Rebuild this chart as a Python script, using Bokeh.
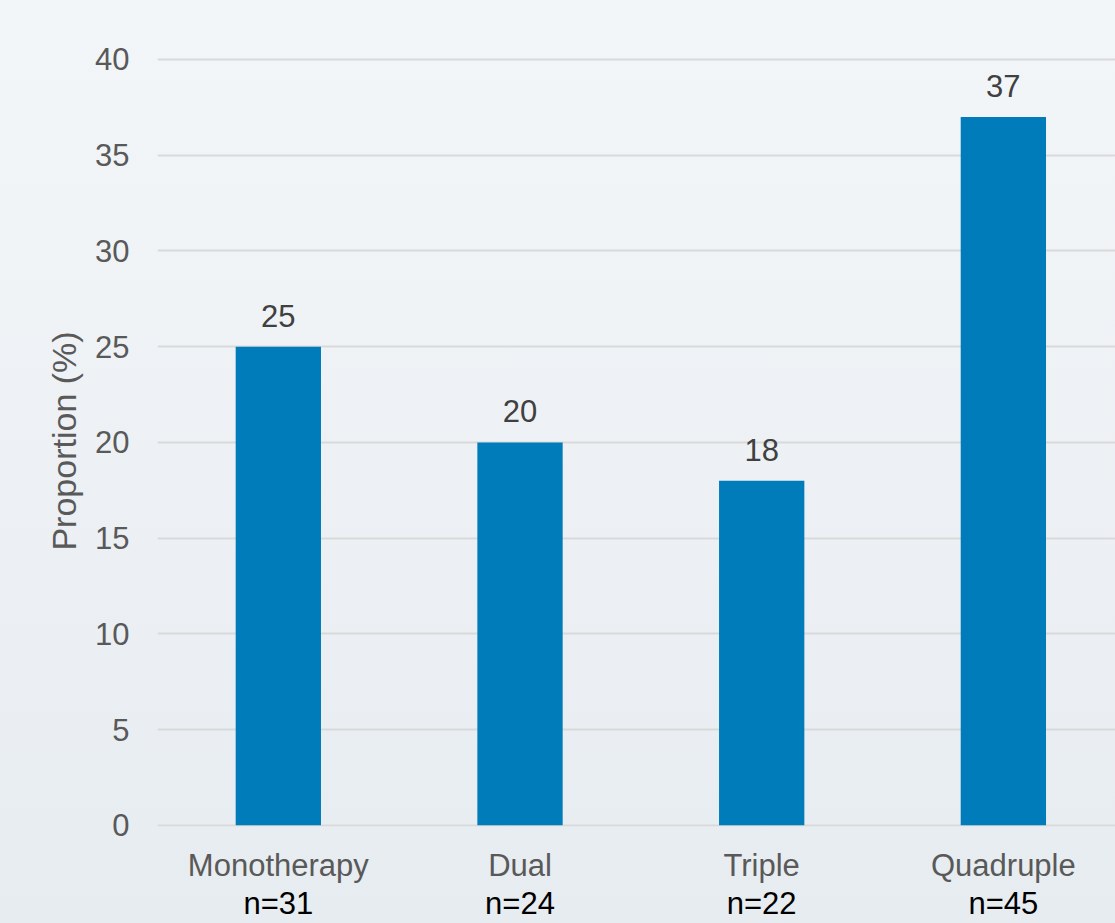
from bokeh.plotting import figure
from bokeh.models import Range1d, FixedTicker, LinearAxis, ColumnDataSource
from bokeh.core.properties import value
from bokeh.embed import file_html
from bokeh.resources import INLINE

categories = ["Monotherapy", "Dual", "Triple", "Quadruple"]
n_labels = ["n=31", "n=24", "n=22", "n=45"]
values = [25, 20, 18, 37]
y_ticks = [0, 5, 10, 15, 20, 25, 30, 35, 40]

xs = list(range(len(categories)))
src = ColumnDataSource(dict(x=xs, top=values, label=[str(v) for v in values]))

FONT = "Liberation Sans"

p = figure(width=1115, height=923, output_backend="svg", toolbar_location=None,
           x_range=Range1d(-0.5, 3.464), y_range=Range1d(-0.06, 40.208),
           min_border_left=157, min_border_right=0, min_border_top=55,
           min_border_bottom=94)
p.background_fill_alpha = 0
p.border_fill_alpha = 0
p.outline_line_color = None
p.styles = {"background": "linear-gradient(to bottom, #f3f6f9, #e7ecf0)"}

p.vbar(x="x", top="top", width=0.353, bottom=0, source=src,
       fill_color="#017cbb", line_color=None)
p.text(x="x", y="top", text="label", source=src, text_align="center",
       text_baseline="alphabetic", y_offset=-31, text_font=value(FONT),
       text_font_size="31px", text_color="#404040")

# y axis
ya = p.yaxis[0]
ya.ticker = FixedTicker(ticks=y_ticks)
ya.axis_line_color = None
ya.major_tick_line_color = None
ya.minor_tick_line_color = None
ya.major_label_text_font = FONT
ya.major_label_text_font_size = "31px"
ya.major_label_text_color = "#595959"
ya.major_label_standoff = 22
ya.axis_label = "Proportion (%)"
ya.axis_label_text_font = FONT
ya.axis_label_text_font_size = "34px"
ya.axis_label_text_font_style = "normal"
ya.axis_label_text_color = "#595959"
ya.axis_label_standoff = 9

p.ygrid.ticker = FixedTicker(ticks=y_ticks)
p.ygrid.grid_line_color = "#d9d9d9"
p.ygrid.grid_line_width = 2
p.xgrid.grid_line_color = None

# x axis: category names
xa = p.xaxis[0]
xa.ticker = FixedTicker(ticks=xs)
xa.major_label_overrides = {i: c for i, c in zip(xs, categories)}
xa.axis_line_color = None
xa.major_tick_line_color = None
xa.minor_tick_line_color = None
xa.major_label_text_font = FONT
xa.major_label_text_font_size = "31px"
xa.major_label_text_color = "#595959"
xa.major_label_standoff = 15

# second x axis: sample sizes
xa2 = LinearAxis(ticker=FixedTicker(ticks=xs),
                 major_label_overrides={i: n for i, n in zip(xs, n_labels)})
xa2.axis_line_color = None
xa2.major_tick_line_color = None
xa2.minor_tick_line_color = None
xa2.major_label_text_font = FONT
xa2.major_label_text_font_size = "31px"
xa2.major_label_text_color = "#000000"
xa2.major_label_standoff = -6
p.add_layout(xa2, "below")

open("out.html", "w").write(file_html(p, INLINE))
